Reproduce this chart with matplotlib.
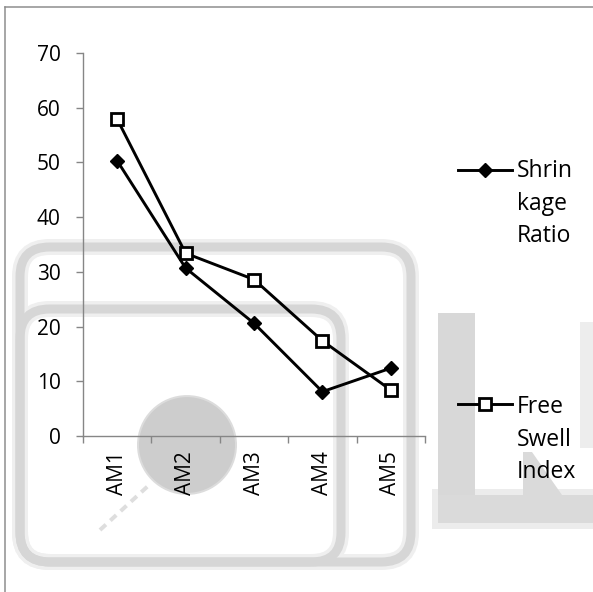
import matplotlib
matplotlib.use("Agg")
import matplotlib.pyplot as plt
from matplotlib.patches import FancyBboxPatch, Circle, Polygon, Rectangle
from matplotlib.lines import Line2D

plt.rcParams['font.family'] = ['Open Sans', 'DejaVu Sans']

samples = ["AM1", "AM2", "AM3", "AM4", "AM5"]
shrinkage_ratio = [50.3, 30.7, 20.6, 8.1, 12.4]
free_swell_index = [57.9, 33.4, 28.6, 17.4, 8.4]
series_labels = [["Shrin", "kage", "Ratio"], ["Free", "Swell", "Index"]]
y_ticks = [0, 10, 20, 30, 40, 50, 60, 70]

W, H = 593, 592
fig = plt.figure(figsize=(W / 100, H / 100), dpi=100)


def fx(x):
    return x / W


def fy(y):
    return 1 - y / H


def px(v):
    # pixels -> points
    return v * 72 / 100


# faint logo in the background
wm = dict(transform=fig.transFigure, zorder=-10)
for lw, col in [(16, "#efefef"), (9, "#d6d6d6")]:
    for (x0, top, x1, bot) in [(20, 247, 411, 562), (20, 309, 341, 562)]:
        fig.add_artist(FancyBboxPatch((fx(x0), fy(bot)), fx(x1 - x0), (bot - top) / H,
                                      boxstyle="round,pad=0,rounding_size=0.05",
                                      fill=False, ec=col, lw=px(lw), **wm))
fig.add_artist(Circle((fx(187), fy(445)), 49 / W, fc="#cdcdcd", ec="#dcdcdc", lw=px(2), **wm))
fig.add_artist(Line2D([fx(100), fx(148)], [fy(530), fy(486)], color="#dedede",
                      lw=px(4), ls=(0, (2, 1.5)), **wm))
fig.add_artist(Rectangle((fx(432), fy(529)), fx(161), 40 / H, fc="#ececec", ec="none", **wm))
fig.add_artist(Rectangle((fx(438), fy(523)), fx(37), 210 / H, fc="#d8d8d8", ec="none", **wm))
fig.add_artist(Rectangle((fx(438), fy(523)), fx(155), 28 / H, fc="#dadada", ec="none", **wm))
fig.add_artist(Polygon([(fx(523), fy(495)), (fx(523), fy(452)), (fx(532), fy(452)),
                        (fx(562), fy(495))], closed=True, fc="#dadada", ec="none", **wm))
fig.add_artist(Rectangle((fx(580), fy(448)), fx(13), 126 / H, fc="#ededed", ec="none", **wm))

# page border
fig.add_artist(Line2D([fx(5), 1], [fy(7), fy(7)], color="#8c8c8c", lw=px(1.5)))
fig.add_artist(Line2D([fx(5), fx(5)], [fy(7), 0], color="#8c8c8c", lw=px(1.5)))

ax = fig.add_axes([fx(83), fy(436), fx(425 - 83), (436 - 53) / H])
ax.patch.set_alpha(0)

x = list(range(len(samples)))
ax.plot(x, shrinkage_ratio, color="black", lw=2.1, marker="D", ms=7,
        mfc="black", mec="black", mew=1, clip_on=False)
ax.plot(x, free_swell_index, color="black", lw=2.1, marker="s", ms=9,
        mfc="white", mec="black", mew=2, clip_on=False)

ax.set_xlim(-0.5, len(samples) - 0.5)
ax.set_ylim(0, 70)
ax.set_yticks(y_ticks)
ax.set_xticks([i - 0.5 for i in range(len(samples) + 1)])
ax.set_xticklabels([])
ax.set_xticks(x, minor=True)
ax.set_xticklabels(samples, minor=True, rotation=90, fontsize=15)
ax.tick_params(axis="x", which="minor", length=0, pad=11)
ax.tick_params(axis="x", which="major", length=5, width=1, color="#868686")
ax.tick_params(axis="y", length=5, width=1, color="#868686", pad=11, labelsize=15)

for side in ["top", "right"]:
    ax.spines[side].set_visible(False)
for side in ["left", "bottom"]:
    ax.spines[side].set_color("#868686")
    ax.spines[side].set_linewidth(1)

# legend drawn beside the plot, marker level with the first text line
legend_rows = [(170, "D", 7, "black", 1, [177, 209.5, 242]),
               (404, "s", 9, "white", 2, [413, 445.5, 478])]
for (yh, mk, ms, mfc, mew, baselines), lines in zip(legend_rows, series_labels):
    fig.add_artist(Line2D([fx(458), fx(512)], [fy(yh), fy(yh)], color="black", lw=2.1))
    fig.add_artist(Line2D([fx(485)], [fy(yh)], marker=mk, ms=ms, mfc=mfc,
                          mec="black", mew=mew, ls="none"))
    for b, t in zip(baselines, lines):
        fig.text(fx(517), fy(b), t, fontsize=16.5, va="baseline", ha="left")

fig.savefig("out.png", dpi=100)
